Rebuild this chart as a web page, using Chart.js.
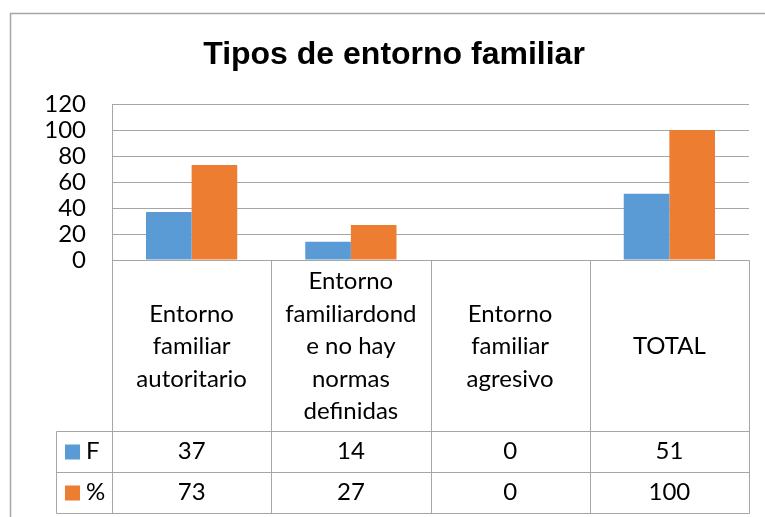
<!DOCTYPE html>
<html>
<head>
<meta charset="utf-8">
<title>Tipos de entorno familiar</title>
<script src="https://cdn.jsdelivr.net/npm/chart.js@4/dist/chart.umd.min.js"></script>
<style>
  html, body { margin: 0; padding: 0; background: #fff; }
  #wrap { width: 765px; height: 517px; }
</style>
</head>
<body>
<div id="wrap"><canvas id="chart" width="765" height="517"></canvas></div>
<script>
// ── Data ──────────────────────────────────────────────────────────────────
const chartTitle = 'Tipos de entorno familiar';
const categories = [
    ['Entorno', 'familiar', 'autoritario'],
    ['Entorno', 'familiardond', 'e no hay', 'normas', 'definidas'],
    ['Entorno', 'familiar', 'agresivo'],
    ['TOTAL'],
];
const seriesNames = ['F', '%'];
const seriesF = [37, 14, 0, 51];
const seriesPct = [73, 27, 0, 100];
const yTicks = [0, 20, 40, 60, 80, 100, 120];

const COLORS = ['#5B9BD5', '#ED7D31'];
const LINE = '#a6a6a6';
const TABLE_FONT = '24px Lato, "Open Sans", sans-serif';

// ── Outer frame + title ───────────────────────────────────────────────────
const framePlugin = {
    id: 'frame',
    beforeDraw(chart) {
        const { ctx } = chart;
        ctx.save();
        ctx.strokeStyle = LINE;
        ctx.lineWidth = 1.5;
        ctx.strokeRect(10.5, 13.5, 800, 600);
        ctx.fillStyle = '#000';
        ctx.font = 'bold 32px "Liberation Sans", Arial, sans-serif';
        ctx.textAlign = 'center';
        ctx.textBaseline = 'alphabetic';
        ctx.fillText(chartTitle, 394, 64);
        ctx.restore();
    },
};

// ── Data table under the plot ─────────────────────────────────────────────
const tablePlugin = {
    id: 'dataTable',
    afterDraw(chart) {
        const { ctx, chartArea: a } = chart;
        const colW = a.width / categories.length;
        const rowTop = a.bottom, rowF = 431, rowP = 472, rowEnd = 513;
        const keyLeft = 56;
        const rows = [seriesF, seriesPct];

        ctx.save();
        ctx.strokeStyle = LINE;
        ctx.lineWidth = 1;
        const line = (x1, y1, x2, y2) => {
            ctx.beginPath();
            ctx.moveTo(Math.round(x1) + 0.5, Math.round(y1) + 0.5);
            ctx.lineTo(Math.round(x2) + 0.5, Math.round(y2) + 0.5);
            ctx.stroke();
        };
        line(a.left, rowTop, a.right, rowTop);
        [rowF, rowP, rowEnd].forEach(y => line(keyLeft, y, a.right, y));
        for (let i = 0; i <= categories.length; i++) {
            line(a.left + i * colW, rowTop, a.left + i * colW, rowEnd);
        }
        line(keyLeft, rowF, keyLeft, rowEnd);

        ctx.fillStyle = '#000';
        ctx.font = TABLE_FONT;
        ctx.textAlign = 'center';
        ctx.textBaseline = 'middle';

        // category labels
        const lh = 32.5;
        const midCat = (rowTop + rowF) / 2 + 1;
        categories.forEach((lines, i) => {
            const cx = a.left + (i + 0.5) * colW;
            const y0 = midCat - (lines.length - 1) * lh / 2;
            lines.forEach((t, k) => ctx.fillText(t, cx, y0 + k * lh));
        });

        // value rows with legend keys
        const bounds = [[rowF, rowP], [rowP, rowEnd]];
        rows.forEach((vals, r) => {
            const cy = (bounds[r][0] + bounds[r][1]) / 2;
            ctx.fillStyle = COLORS[r];
            ctx.fillRect(65, cy - 7, 15, 15);
            ctx.fillStyle = '#000';
            ctx.textAlign = 'left';
            ctx.fillText(seriesNames[r], 86, cy);
            ctx.textAlign = 'center';
            vals.forEach((v, i) => ctx.fillText(String(v), a.left + (i + 0.5) * colW, cy));
        });
        ctx.restore();
    },
};

new Chart(document.getElementById('chart'), {
    type: 'bar',
    data: {
        labels: categories.map(l => l.join(' ')),
        datasets: [
            { label: seriesNames[0], data: seriesF, backgroundColor: COLORS[0] },
            { label: seriesNames[1], data: seriesPct, backgroundColor: COLORS[1] },
        ],
    },
    options: {
        responsive: false,
        animation: false,
        devicePixelRatio: 1,
        layout: { padding: { left: 0, right: 16, top: 104, bottom: 257 } },
        datasets: { bar: { categoryPercentage: 0.573, barPercentage: 1, borderWidth: 0 } },
        plugins: {
            legend: { display: false },
            tooltip: { enabled: false },
            title: { display: false },
        },
        scales: {
            x: { display: false },
            y: {
                min: yTicks[0],
                max: yTicks[yTicks.length - 1],
                afterFit: s => { s.width = 112; },
                afterBuildTicks: s => { s.ticks = yTicks.map(v => ({ value: v })); },
                ticks: {
                    color: '#000',
                    padding: 26,
                    autoSkip: false,
                    font: { family: 'Lato, "Open Sans", sans-serif', size: 24 },
                },
                grid: { color: LINE, lineWidth: 1, drawTicks: false },
                border: { display: true, color: LINE },
            },
        },
    },
    plugins: [framePlugin, tablePlugin],
});
</script>
</body>
</html>
